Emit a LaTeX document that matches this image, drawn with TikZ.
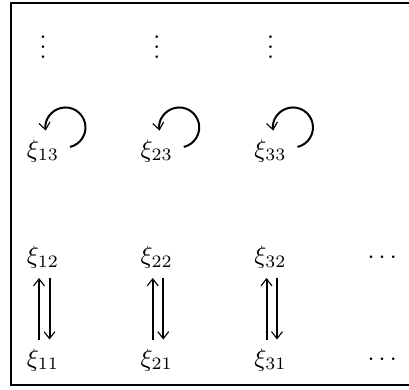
\documentclass[tikz,border=0pt]{standalone}
\usepackage{amsmath}
\usetikzlibrary{positioning,arrows.meta}

\begin{document}
\begin{tikzpicture}[node distance=1.6cm,on grid,thick,
   >={Straight Barb[length=2.8pt,width=4.4pt,line width=0.45pt]}]
   \useasboundingbox (-0.605,-0.422) rectangle (5.148,5.063);
   \draw (-0.45,-0.352) rectangle (5.4,5.02);
   \node (xi11) {$\xi_{11}$};
   \node (xi12) [above=1.44cm of xi11] {$\xi_{12}$};
   \node (xi13) [above=1.5cm of xi12] {$\xi_{13}$};
   \node (vd1) [above=1.57cm of xi13] {$\vdots$};
   \node (xi21) [right=of xi11] {$\xi_{21}$};
   \node (xi22) [right=of xi12] {$\xi_{22}$};
   \node (xi23) [right=of xi13] {$\xi_{23}$};
   \node (vd2) [right=of vd1] {$\vdots$};
   \node (xi31) [right=of xi21] {$\xi_{31}$};
   \node (xi32) [right=of xi22] {$\xi_{32}$};
   \node (xi33) [right=of xi23] {$\xi_{33}$};
   \node (vd3) [right=of vd2] {$\vdots$};
   \node (dots1) [right=of xi31] {$\cdots$};
   \node (dots2) [right=of xi32] {$\cdots$};
    \path[->]
    ([xshift=-1.6pt]xi11.north) edge ([xshift=-1.6pt]xi12.south)
    ([xshift=2.6pt]xi12.south)  edge ([xshift=2.6pt]xi11.north)
    ([xshift=-1.6pt]xi21.north) edge ([xshift=-1.6pt]xi22.south)
    ([xshift=2.6pt]xi22.south)  edge ([xshift=2.6pt]xi21.north)
    ([xshift=-1.6pt]xi31.north) edge ([xshift=-1.6pt]xi32.south)
    ([xshift=2.6pt]xi32.south)  edge ([xshift=2.6pt]xi31.north);
    \draw[->] ([shift={(10.8pt,1.6pt)}]xi13.center) arc[start angle=-77,end angle=189,radius=8pt];
    \draw[->] ([shift={(10.8pt,1.6pt)}]xi23.center) arc[start angle=-77,end angle=189,radius=8pt];
    \draw[->] ([shift={(10.8pt,1.6pt)}]xi33.center) arc[start angle=-77,end angle=189,radius=8pt];
\end{tikzpicture}
\end{document}
